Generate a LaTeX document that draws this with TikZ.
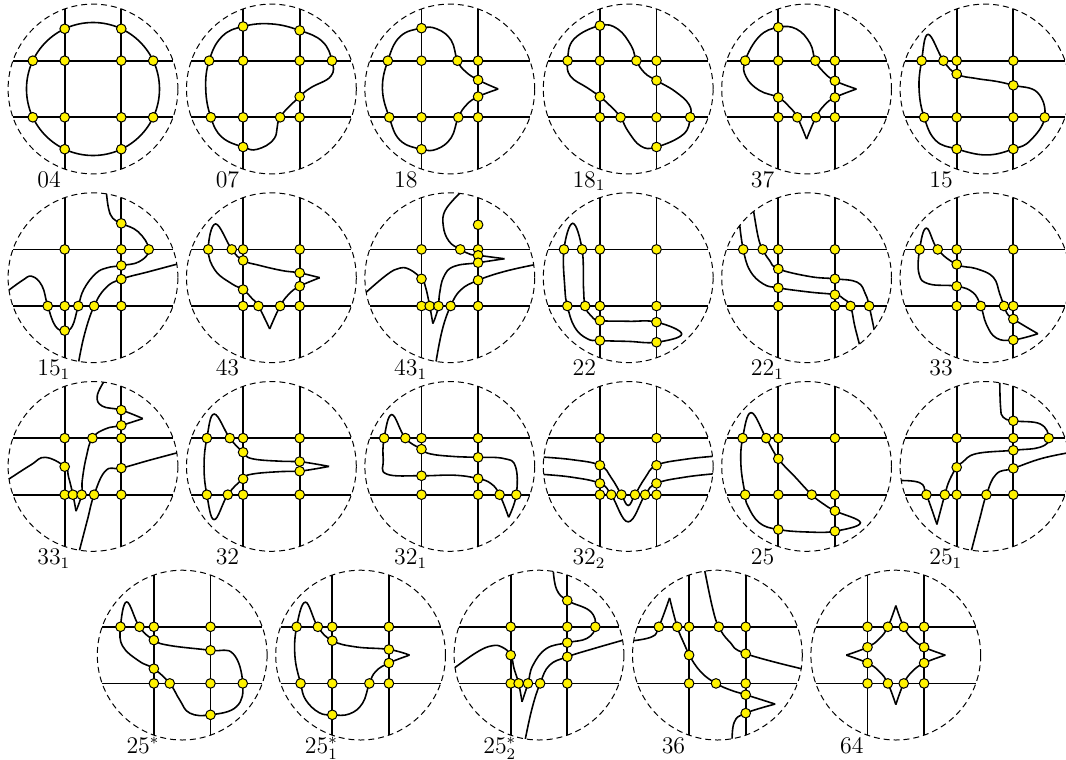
\documentclass[tikz,border=0pt]{standalone}
\usepackage{tikz}

\newcommand{\knotpanel}[5]{%
  \begin{scope}[shift={#2}]
    \draw[rim] (0,0) circle (3);
    \draw[gridline] (-1,-2.83) -- (-1,2.83) (1,-2.83) -- (1,2.83)
      (-2.83,-1) -- (2.83,-1) (-2.83,1) -- (2.83,1);
    \begin{scope}
      \clip (0,0) circle (3);
      #4
    \end{scope}
    \foreach \x/\y in {-1/-1,-1/1,1/-1,1/1,#5}
      \draw[knot] (\x,\y) circle (0.17);
    \node[tag] (#1) at (-1.98,-3.47) {#3};
  \end{scope}}

\begin{document}
\begin{tikzpicture}[
    x=0.5cm, y=0.5cm,
    rim/.style={dash pattern=on 3pt off 2pt, line width=0.5pt},
    gridline/.style={line width=0.9pt},
    curve/.style={line width=0.8pt, tension=0.7},
    knot/.style={fill=yellow, draw=black, line width=0.5pt},
    tag/.style={anchor=base west, font=\large, inner sep=0pt}
]
\useasboundingbox (0,0) rectangle (37.668,-26.855);

\knotpanel{c04}{(3.286,-3.145)}{04}{\draw[curve] (0,0) circle (2.35);}
  {-1/2.127,1/2.127,-1/-2.127,1/-2.127,-2.127/1,2.127/1,-2.127/-1,2.127/-1}

\knotpanel{c07}{(9.590,-3.145)}{07}{\draw[curve] plot[smooth cycle] coordinates {(-2.2,1) (-1.75,1.85) (-1,2.21) (0,2.3) (1,2.07) (1.8,1.68) (2.14,1) (2.1,0.45) (1.4,0.05) (1,-0.27) (0.31,-1) (0.1,-1.75) (-0.5,-2.13) (-1,-2.05) (-1.75,-1.7) (-2.14,-1) (-2.32,0)};}
  {-2.2/1,-1/2.21,1/2.07,2.14/1,1/-0.27,0.31/-1,-1/-2.05,-2.14/-1}

\knotpanel{c18}{(15.894,-3.145)}{18}{\draw[curve] plot[smooth] coordinates {(1.71,0) (1,0.32) (0.55,0.62) (0.27,1) (0.05,1.72) (-0.45,2.12) (-1,2.15) (-1.76,1.85) (-2.19,1) (-2.38,0) (-2.14,-1) (-1.76,-1.81) (-1,-2.13) (-0.45,-2.12) (0.05,-1.72) (0.3,-1) (0.6,-0.55) (1,-0.27) (1.71,0)};}
  {-2.19/1,-1/2.15,0.27/1,1/0.32,1/-0.27,0.3/-1,-1/-2.13,-2.14/-1}

\knotpanel{c18a}{(22.198,-3.145)}{$18_1$}{\draw[curve] plot[smooth cycle] coordinates {(-1,2.24) (-0.37,2.12) (0.11,1.52) (0.29,1) (0.58,0.57) (1,0.3) (1.65,-0.08) (2.15,-0.55) (2.19,-1) (1.95,-1.6) (1,-2.05) (0.45,-2.02) (0,-1.5) (-0.27,-1) (-0.61,-0.62) (-1,-0.27) (-1.44,0.04) (-2.04,0.45) (-2.14,1) (-1.92,1.76)};}
  {-1/2.24,-2.14/1,0.29/1,1/0.3,2.19/-1,1/-2.05,-0.27/-1,-1/-0.27}

\knotpanel{c37}{(28.502,-3.145)}{37}{\draw[curve] plot[smooth] coordinates {(1.76,0) (1,0.29) (0.6,0.6) (0.31,1) (0.12,1.62) (-0.36,2.12) (-1,2.18) (-1.67,1.86) (-2.17,1) (-2.14,0.43) (-1.67,-0.05) (-1,-0.3) (-0.6,-0.64) (-0.33,-1) (0,-1.77)};
  \draw[curve] plot[smooth] coordinates {(0,-1.77) (0.33,-1) (0.63,-0.57) (1,-0.3) (1.76,0)};}
  {-1/2.18,-2.17/1,0.31/1,1/0.29,1/-0.3,0.33/-1,-0.33/-1,-1/-0.3}

\knotpanel{c15}{(34.806,-3.145)}{15}{\draw[curve] plot[smooth cycle] coordinates {(-2.01,1.93) (-1.47,1) (-1,0.53) (-0.3,0.37) (0.4,0.27) (1,0.13) (1.85,-0.12) (2.11,-1) (1.6,-1.82) (1,-2.12) (0.05,-2.33) (-1,-2.12) (-1.74,-1.82) (-2.15,-1) (-2.33,0) (-2.24,1)};}
  {-2.24/1,-1.47/1,-1/0.53,1/0.13,2.11/-1,1/-2.12,-1/-2.12,-2.15/-1}

\knotpanel{c15a}{(3.286,-9.813)}{$15_1$}{\draw[curve] plot[smooth] coordinates {(0.47,3.05) (0.55,2.45) (0.7,2.1) (1,1.92) (1.6,1.62) (1.97,1) (1.64,0.57) (1,0.43) (0.5,0.35) (0.1,0.15) (-0.32,-0.4) (-0.52,-1) (-0.73,-1.71) (-1,-1.87) (-1.33,-1.71) (-1.6,-1) (-1.8,-0.29) (-2.16,0.05) (-2.5,-0.1) (-3.05,-0.5)};
  \draw[curve] plot[smooth] coordinates {(-0.52,-3.05) (-0.3,-2) (0.04,-1) (0.46,-0.35) (1,-0.05) (2,0.22) (3.05,0.5)};}
  {1/1.92,1.97/1,1/0.43,1/-0.05,-1.6/-1,-0.52/-1,0.04/-1,-1/-1.87}

\knotpanel{c43}{(9.590,-9.813)}{43}{\draw[curve] plot[smooth] coordinates {(1.71,0) (1,0.17) (0.39,0.25) (-0.44,0.44) (-1,0.61) (-1.4,1) (-1.97,1.9) (-2.23,1) (-1.98,0.25) (-1.39,-0.22) (-1,-0.42) (-0.67,-0.75) (-0.46,-1) (-0.06,-1.81)};
  \draw[curve] plot[smooth] coordinates {(-0.06,-1.81) (0.31,-1) (0.63,-0.57) (1,-0.3) (1.71,0)};}
  {-2.23/1,-1.4/1,-1/0.61,1/0.17,1/-0.3,0.31/-1,-0.46/-1,-1/-0.42}

\knotpanel{c43a}{(15.894,-9.813)}{$43_1$}{\draw[curve] plot[smooth] coordinates {(0.42,3.05) (-0.15,2.4) (-0.23,1.83) (-0.03,1.29) (0.37,1) (0.74,0.82) (1,0.79) (1.93,0.67)};
  \draw[curve] plot[smooth] coordinates {(1.93,0.67) (1,0.53) (0.15,0.4) (-0.21,0.04) (-0.36,-0.55) (-0.4,-1) (-0.5,-1.37) (-0.6,-1.62)};
  \draw[curve] plot[smooth] coordinates {(-0.6,-1.62) (-0.71,-1) (-0.86,-0.32) (-1,-0.04) (-1.4,0.28) (-1.76,0.34) (-2.23,0.1) (-3.05,-0.6)};
  \draw[curve] plot[smooth] coordinates {(-0.5,-3.05) (-0.27,-1.86) (0.03,-1) (0.39,-0.43) (1,-0.09) (1.93,0.22) (3.05,0.47)};}
  {1/1.87,0.37/1,1/0.79,1/0.53,1/-0.09,-1/-0.04,-0.71/-1,-0.4/-1,0.03/-1}

\knotpanel{c22}{(22.198,-9.813)}{22}{\draw[curve] plot[smooth cycle] coordinates {(-1.96,1.92) (-1.63,1) (-1.58,-0.34) (-1.52,-1) (-1.32,-1.34) (-1,-1.51) (0,-1.54) (1,-1.57) (1.89,-1.99) (1,-2.28) (0,-2.25) (-1,-2.22) (-1.44,-2.16) (-1.89,-1.75) (-2.15,-1) (-2.24,-0.34) (-2.27,1)};}
  {-2.27/1,-1.63/1,-2.15/-1,-1.52/-1,-1/-1.51,1/-1.57,-1/-2.22,1/-2.28}

\knotpanel{c22a}{(28.502,-9.813)}{$22_1$}{\draw[curve] plot[smooth] coordinates {(-2.37,1.92) (-2.24,1) (-2,0.25) (-1.53,-0.22) (-1,-0.36) (0.12,-0.51) (1,-0.6) (1.31,-0.75) (1.55,-1) (1.7,-1.7) (1.88,-2.4)};
  \draw[curve] plot[smooth] coordinates {(-1.88,2.4) (-1.71,1.43) (-1.55,1) (-1.31,0.61) (-1,0.31) (0.12,0.04) (1,-0.04) (1.79,-0.16) (2.08,-0.58) (2.21,-1) (2.4,-1.9)};}
  {-2.24/1,-1.55/1,-1/0.31,1/-0.04,-1/-0.36,1/-0.6,1.55/-1,2.21/-1}

\knotpanel{c33}{(34.806,-9.813)}{33}{\draw[curve] plot[smooth] coordinates {(1.87,-1.98) (1,-1.46) (0.76,-1.23) (0.67,-1) (0.52,-0.57) (0.29,0.02) (-0.31,0.32) (-1,0.47) (-1.67,1) (-2.07,1.75) (-2.31,1) (-2.33,0.13) (-1.98,-0.22) (-1,-0.3) (-0.43,-0.52) (-0.15,-1) (0.05,-1.65) (0.4,-2.13) (1,-2.2) (1.87,-1.98)};}
  {-2.31/1,-1.67/1,-1/0.47,-1/-0.3,-0.15/-1,0.67/-1,1/-1.46,1/-2.2}

\knotpanel{c33a}{(3.286,-16.481)}{$33_1$}{\draw[curve] plot[smooth] coordinates {(0.42,3.05) (0.15,2.49) (0.33,2.13) (1,1.99) (1.76,1.69)};
  \draw[curve] plot[smooth] coordinates {(1.76,1.69) (1,1.45) (0.45,1.33) (-0.02,1) (-0.24,0.32) (-0.38,-0.5) (-0.4,-1) (-0.6,-1.58)};
  \draw[curve] plot[smooth] coordinates {(-0.6,-1.58) (-0.71,-1) (-0.86,-0.39) (-1,-0.01) (-1.69,0.32) (-2.2,0.05) (-3.05,-0.5)};
  \draw[curve] plot[smooth] coordinates {(-0.5,-3.05) (-0.2,-1.9) (0.04,-1) (0.45,-0.15) (1,-0.06) (2,0.22) (3.05,0.5)};}
  {1/1.99,1/1.45,-0.02/1,-1/-0.01,1/-0.06,-0.71/-1,-0.4/-1,0.04/-1}

\knotpanel{c32}{(9.590,-16.481)}{32}{\draw[curve] plot[smooth] coordinates {(2.04,0) (1,0.17) (0.39,0.18) (-0.67,0.27) (-1,0.5) (-1.47,1) (-2.02,1.85) (-2.28,1) (-2.38,0) (-2.28,-1) (-2.02,-1.88) (-1.54,-1) (-1,-0.44) (-0.67,-0.27) (0.39,-0.18) (1,-0.17) (2.04,0)};}
  {-2.28/1,-1.47/1,-1/0.5,1/0.17,1/-0.17,-1/-0.44,-2.28/-1,-1.54/-1}

\knotpanel{c32a}{(15.894,-16.481)}{$32_1$}{\draw[curve] plot[smooth] coordinates {(2.08,-1.8) (1.76,-1) (1.46,-0.61) (1,-0.43) (0.15,-0.31) (-1,-0.33) (-2.23,-0.27) (-2.35,0.23) (-2.32,1) (-2.05,1.83) (-1.57,1) (-1,0.61) (-0.68,0.44) (0.15,0.35) (1,0.32) (1.9,0.28) (2.32,0) (2.35,-1) (2.08,-1.8)};}
  {-2.32/1,-1.57/1,-1/0.61,1/0.32,-1/-0.33,1/-0.43,1.76/-1,2.35/-1}

\knotpanel{c32b}{(22.198,-16.481)}{$32_2$}{\draw[curve] plot[smooth] coordinates {(-3.05,0.33) (-2,0.24) (-1,0.04) (-0.6,-0.4) (-0.24,-1) (0,-1.38) (0.24,-1) (0.6,-0.4) (1,0.04) (2,0.25) (3.05,0.36)};
  \draw[curve] plot[smooth] coordinates {(-3.05,-0.28) (-2,-0.38) (-1,-0.6) (-0.6,-1) (0,-1.96) (0.6,-1) (1,-0.6) (2,-0.38) (3.05,-0.26)};}
  {-1/0.04,1/0.04,-1/-0.6,1/-0.6,-0.6/-1,-0.24/-1,0.24/-1,0.6/-1}

\knotpanel{c25}{(28.502,-16.481)}{25}{\draw[curve] plot[smooth cycle] coordinates {(-1.96,1.9) (-1.43,1) (-1,0.27) (-0.4,-0.38) (0.18,-1) (0.6,-1.33) (1,-1.57) (1.9,-1.99) (1,-2.29) (0.1,-2.32) (-1,-2.23) (-1.67,-1.99) (-2.08,-1.39) (-2.17,-1) (-2.32,0.04) (-2.26,1)};}
  {-2.26/1,-1.43/1,-1/0.27,0.18/-1,1/-1.57,1/-2.29,-1/-2.23,-2.17/-1}

\knotpanel{c25a}{(34.806,-16.481)}{$25_1$}{\draw[curve] plot[smooth] coordinates {(0.52,3.05) (0.55,2.09) (0.64,1.74) (1,1.61) (1.95,1.5) (2.25,1) (1.95,0.68) (1,0.57) (-0.31,0.45) (-0.79,0.15) (-1,-0.03) (-1.26,-0.5) (-1.42,-1) (-1.7,-2.05)};
  \draw[curve] plot[smooth] coordinates {(-1.7,-2.05) (-2.07,-1) (-2.3,-0.58) (-3.05,-0.5)};
  \draw[curve] plot[smooth] coordinates {(-0.5,-3.05) (-0.2,-1.9) (0.05,-1) (0.4,-0.27) (1,-0.07) (2,0.28) (3.05,0.5)};}
  {1/1.61,2.25/1,1/0.57,-1/-0.03,1/-0.07,-2.07/-1,-1.42/-1,0.05/-1}

\knotpanel{c25s}{(6.438,-23.149)}{$25^*$}{\draw[curve] plot[smooth cycle] coordinates {(-1.96,1.88) (-1.51,1) (-1,0.53) (-0.44,0.34) (1,0.17) (1.8,0.05) (2.14,-1) (1.92,-1.82) (1,-2.11) (0.27,-2.05) (-0.09,-1.58) (-0.44,-1) (-1,-0.48) (-1.51,-0.22) (-2.1,0.31) (-2.18,1)};}
  {-2.18/1,-1.51/1,-1/0.53,1/0.17,-1/-0.48,-0.44/-1,2.14/-1,1/-2.11}

\knotpanel{c25sa}{(12.742,-23.149)}{$25^*_1$}{\draw[curve] plot[smooth] coordinates {(1.73,0) (1,0.2) (-0.17,0.29) (-1,0.51) (-1.51,1) (-1.95,1.87) (-2.26,1) (-2.32,-0.04) (-2.12,-1) (-1.94,-1.58) (-1.47,-2.03) (-1,-2.11) (-0.4,-2.08) (0.07,-1.7) (0.31,-1) (0.54,-0.57) (1,-0.28) (1.73,0)};}
  {-2.26/1,-1.51/1,-1/0.51,1/0.2,1/-0.28,-2.12/-1,0.31/-1,-1/-2.11}

\knotpanel{c25sb}{(19.046,-23.149)}{$25^*_2$}{\draw[curve] plot[smooth] coordinates {(0.5,3.05) (0.62,2.33) (1,1.93) (1.81,1.55) (1.99,1) (1.69,0.59) (1,0.44) (0.26,0.23) (-0.22,-0.37) (-0.39,-1) (-0.6,-1.65)};
  \draw[curve] plot[smooth] coordinates {(-0.6,-1.65) (-0.72,-1) (-0.88,-0.48) (-1,0) (-1.3,0.28) (-1.66,0.33) (-2.2,0.1) (-3.05,-0.5)};
  \draw[curve] plot[smooth] coordinates {(-0.5,-3.05) (-0.25,-1.9) (0.04,-1) (0.37,-0.36) (1,-0.06) (2,0.25) (3.05,0.55)};}
  {1/1.93,1.99/1,1/0.44,1/-0.06,-1/0,-0.72/-1,-0.39/-1,0.04/-1}

\knotpanel{c36}{(25.350,-23.149)}{36}{\draw[curve] plot[smooth] coordinates {(-3.05,0.5) (-2.31,0.65) (-2.07,1) (-1.69,2.02)};
  \draw[curve] plot[smooth] coordinates {(-1.69,2.02) (-1.42,1) (-1.18,0.41) (-1,0) (-0.58,-0.6) (-0.05,-1) (0.48,-1.24) (1,-1.4) (2.04,-1.73)};
  \draw[curve] plot[smooth] coordinates {(2.04,-1.73) (1,-2.05) (0.6,-2.36) (0.52,-3.05)};
  \draw[curve] plot[smooth] coordinates {(-0.46,3.05) (-0.17,1.66) (0.05,1) (0.43,0.47) (1,0.05) (3.05,-0.5)};}
  {-2.07/1,-1.42/1,0.05/1,-1/0,1/0.05,-0.05/-1,1/-1.4,1/-2.05}

\knotpanel{c64}{(31.654,-23.149)}{64}{\draw[curve] plot[smooth] coordinates {(0,1.75) (0.28,1) (0.58,0.58) (1,0.28) (1.75,0)};
  \draw[curve] plot[smooth] coordinates {(1.75,0) (1,-0.28) (0.58,-0.58) (0.28,-1) (0,-1.75)};
  \draw[curve] plot[smooth] coordinates {(0,-1.75) (-0.28,-1) (-0.58,-0.58) (-1,-0.28) (-1.75,0)};
  \draw[curve] plot[smooth] coordinates {(-1.75,0) (-1,0.28) (-0.58,0.58) (-0.28,1) (0,1.75)};}
  {-0.28/1,0.28/1,-0.28/-1,0.28/-1,-1/0.28,-1/-0.28,1/0.28,1/-0.28}

\end{tikzpicture}
\end{document}
